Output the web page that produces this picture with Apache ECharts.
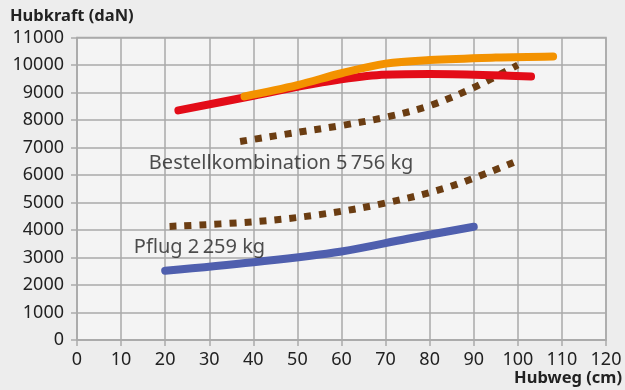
<!DOCTYPE html>
<html><head><meta charset="utf-8">
<script src="https://cdn.jsdelivr.net/npm/echarts@6/dist/echarts.min.js"></script>
<style>html,body{margin:0;padding:0;background:#ededed}#c{width:625px;height:390px}</style>
</head><body><div id="c"></div>
<script>
// x values (cm) and y values (daN)
const redX = [23, 40, 55, 68, 80, 92, 103];
const redY = [8350, 8880, 9350, 9630, 9670, 9640, 9580];
const orangeX = [38, 50, 60, 70, 80, 95, 108];
const orangeY = [8860, 9270, 9700, 10050, 10180, 10270, 10310];
const bestellX = [37, 50, 60, 70, 80, 90, 100];
const bestellY = [7220, 7550, 7800, 8100, 8520, 9180, 10000];
const pflugDotX = [21, 40, 55, 70, 85, 100];
const pflugDotY = [4130, 4300, 4560, 4980, 5600, 6520];
const blueX = [20, 40, 60, 75, 90];
const blueY = [2520, 2830, 3220, 3680, 4120];
const xTicks = [0, 10, 20, 30, 40, 50, 60, 70, 80, 90, 100, 110, 120];
const yTicks = [0, 1000, 2000, 3000, 4000, 5000, 6000, 7000, 8000, 9000, 10000, 11000];
const labels = [
  {text: 'Bestellkombination 5\u2009756 kg', x: 16.3, y: 6430},
  {text: 'Pflug 2\u2009259 kg', x: 12.9, y: 3380}
];
const yTitle = 'Hubkraft (daN)';
const xTitle = 'Hubweg (cm)';

const pair = (xs, ys) => xs.map((v, i) => [v, ys[i]]);
const FONT = 'Noto Sans';
const chart = echarts.init(document.getElementById('c'), null, {renderer: 'canvas'});
function solid(name, xs, ys, color, z) {
  return {name, type: 'line', data: pair(xs, ys), smooth: 0.35, showSymbol: false, z,
    lineStyle: {color, width: 8, cap: 'round', join: 'round'}, silent: true};
}
function dotted(name, xs, ys, z) {
  return {name, type: 'line', data: pair(xs, ys), smooth: 0.35, showSymbol: false, z,
    lineStyle: {color: '#6b3d12', width: 7, type: [7, 8], cap: 'butt'}, silent: true};
}
chart.setOption({
  backgroundColor: '#ededed',
  animation: false,
  textStyle: {fontFamily: FONT},
  grid: {left: 77, right: 19, top: 37.5, bottom: 50, show: true, backgroundColor: '#f4f4f4', borderColor: '#aaaaaa', borderWidth: 1.5},
  xAxis: {type: 'value', min: xTicks[0], max: xTicks[xTicks.length - 1], interval: 10,
    axisLine: {show: true, lineStyle: {color: '#aaaaaa', width: 1.5}},
    axisTick: {show: true, length: 6, lineStyle: {color: '#aaaaaa', width: 1.5}},
    axisLabel: {color: '#222', fontSize: 18, margin: 11, fontFamily: FONT, formatter: v => String(v)},
    splitLine: {show: true, lineStyle: {color: '#aaaaaa', width: 1.5}}},
  yAxis: {type: 'value', min: yTicks[0], max: yTicks[yTicks.length - 1], interval: 1000,
    axisLine: {show: true, lineStyle: {color: '#aaaaaa', width: 1.5}},
    axisTick: {show: true, length: 6, lineStyle: {color: '#aaaaaa', width: 1.5}},
    axisLabel: {color: '#222', fontSize: 18, margin: 13, fontFamily: FONT, formatter: v => String(v)},
    splitLine: {show: true, lineStyle: {color: '#aaaaaa', width: 1.5}}},
  series: [
    dotted('Bestell-dot', bestellX, bestellY, 3),
    dotted('Pflug-dot', pflugDotX, pflugDotY, 3),
    solid('Rot', redX, redY, '#e30c18', 4),
    solid('Orange', orangeX, orangeY, '#f39200', 5),
    solid('Blau', blueX, blueY, '#4f5fae', 4),
    {type: 'scatter', symbolSize: 0, silent: true, z: 6,
      data: labels.map(l => ({value: [l.x, l.y], name: l.text})),
      label: {show: true, position: 'inside', align: 'left', verticalAlign: 'middle',
        formatter: p => p.name, color: '#222', fontSize: 20, fontFamily: FONT}}
  ],
  graphic: [
    {type: 'text', left: 10, top: 8, style: {text: yTitle, fill: '#222', font: 'bold 16.5px "Noto Sans"'}},
    {type: 'text', right: 3, top: 370, style: {text: xTitle, fill: '#222', font: 'bold 16.5px "Noto Sans"'}}
  ]
});
</script></body></html>
